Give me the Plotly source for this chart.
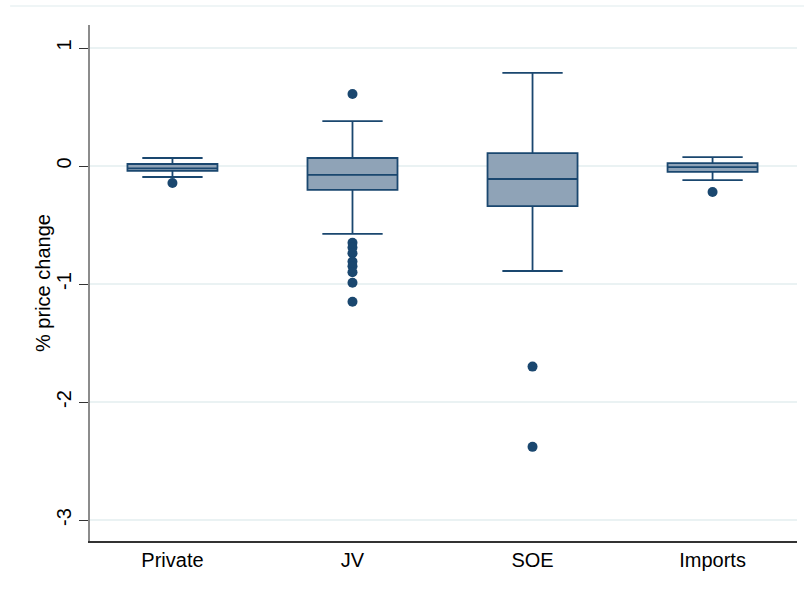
import plotly.graph_objects as go

# Box summary statistics per ownership group (% price change)
groups = ["Private", "JV", "SOE", "Imports"]
q1 = [-0.042, -0.203, -0.34, -0.05]
median = [-0.02, -0.076, -0.11, -0.01]
q3 = [0.017, 0.068, 0.11, 0.025]
lower_whisker = [-0.093, -0.576, -0.89, -0.119]
upper_whisker = [0.068, 0.381, 0.79, 0.076]

# Outside values for each group
outliers = {
    "Private": [-0.144],
    "JV": [0.61, -0.65, -0.69, -0.74, -0.81, -0.85, -0.90, -0.99, -1.15],
    "SOE": [-1.70, -2.38],
    "Imports": [-0.22],
}

y_ticks = [-3, -2, -1, 0, 1]

navy = "#1a476f"
box_fill = "#8fa3b7"
grid_col = "#eaf2f3"
font_family = "Liberation Sans, Arial, sans-serif"

fig = go.Figure()

for i, g in enumerate(groups):
    fig.add_trace(go.Box(
        x=[i], q1=[q1[i]], median=[median[i]], q3=[q3[i]],
        lowerfence=[lower_whisker[i]], upperfence=[upper_whisker[i]],
        width=0.5, whiskerwidth=0.67,
        fillcolor=box_fill, line=dict(color=navy, width=1.8),
        boxpoints=False, showlegend=False, hoverinfo="skip",
    ))
    pts = outliers[g]
    fig.add_trace(go.Scatter(
        x=[i] * len(pts), y=pts, mode="markers",
        marker=dict(color=navy, size=10), showlegend=False,
    ))

fig.update_layout(
    width=804, height=590,
    margin=dict(l=90, r=7, t=25, b=49),
    paper_bgcolor="white", plot_bgcolor="white",
    font=dict(family=font_family, size=20, color="black"),
    xaxis=dict(
        range=[-0.458, 3.469], tickvals=list(range(len(groups))), ticktext=groups,
        tickfont=dict(size=20),
        showgrid=False, zeroline=False, showline=True, linecolor="#333333", linewidth=1.5,
        ticks="", ticklen=0,
    ),
    yaxis=dict(
        range=[-3.178, 1.195], tickvals=y_ticks, ticktext=[str(v) for v in y_ticks],
        tickangle=-90, tickfont=dict(size=20),
        showgrid=True, gridcolor=grid_col, gridwidth=1.5,
        zeroline=False, showline=True, linecolor="#8c8c8c", linewidth=1.5,
        ticks="outside", ticklen=9, tickcolor="#333333", tickwidth=1,
    ),
    annotations=[dict(
        text="% price change", textangle=-90, showarrow=False,
        xref="paper", yref="paper", x=-0.0665, y=0.5,
        xanchor="center", yanchor="middle", font=dict(size=20),
    )],
    shapes=[dict(type="line", xref="paper", yref="paper",
                 x0=-0.113, x1=1.01, y0=1.0368, y1=1.0368,
                 line=dict(color=grid_col, width=1.5))],
)

fig.write_html("out.html")
